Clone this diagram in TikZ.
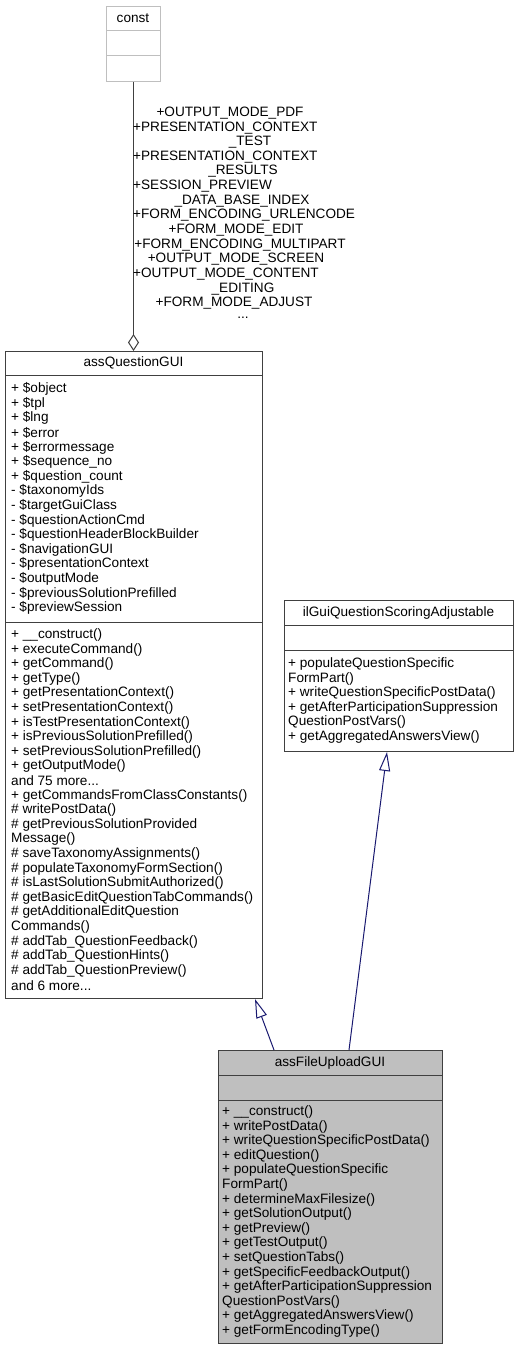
\documentclass[tikz,border=0pt]{standalone}
\usepackage{fontspec}
\setmainfont{Liberation Sans}
\usetikzlibrary{arrows.meta}
\definecolor{edgeblue}{RGB}{25,25,112}
\definecolor{boxline}{RGB}{64,64,64}
\definecolor{constgray}{RGB}{191,191,191}
\definecolor{curfill}{RGB}{191,191,191}

\begin{document}
\begin{tikzpicture}[x=1bp,y=1bp,font=\fontsize{13.6bp}{14.6bp}\selectfont,
box/.style={draw=boxline,line width=1bp,inner sep=0pt,anchor=north west},
member/.style={anchor=west,inner sep=0pt},
inherit/.style={edgeblue,line width=1bp,-{Triangle[open,length=19bp,width=11bp]}},
aggr/.style={boxline,line width=1bp,-{Diamond[open,length=17bp,width=11bp]}}]
\path[fill=white] (0,0) rectangle (515,-1352);
% class boxes, top left corner and size in px
\node[box,draw=constgray,minimum width=54bp,minimum height=75bp] (const) at (106,-6) {};
\node[box,minimum width=257bp,minimum height=647bp] (qgui) at (5,-351) {};
\node[box,minimum width=229bp,minimum height=151bp] (ilgui) at (284,-600) {};
\node[box,fill=curfill,minimum width=224bp,minimum height=293bp] (upload) at (218,-1050) {};
\draw[constgray,line width=1bp] (106,-31) -- (160,-31) (106,-56) -- (160,-56);
\draw[boxline,line width=1bp] (5,-375) -- (262,-375) (5,-622) -- (262,-622);
\draw[boxline,line width=1bp] (284,-625) -- (513,-625) (284,-650) -- (513,-650);
\draw[boxline,line width=1bp] (218,-1075) -- (442,-1075) (218,-1100) -- (442,-1100);
\node[inner sep=0pt] (const-title) at (133,-18.5) {const};
\node[inner sep=0pt] (qgui-title) at (133.5,-363) {assQuestionGUI};
\node[inner sep=0pt] (ilgui-title) at (398.5,-612.5) {ilGuiQuestionScoringAdjustable};
\node[inner sep=0pt] (upload-title) at (330,-1062.5) {assFileUploadGUI};
% members
\foreach \t [count=\i] in {+ \$object,+ \$tpl,+ \$lng,+ \$error,+ \$errormessage,
+ \$sequence\_no,+ \$question\_count,- \$taxonomyIds,- \$targetGuiClass,
- \$questionActionCmd,- \$questionHeaderBlockBuilder,- \$navigationGUI,
- \$presentationContext,- \$outputMode,- \$previousSolutionPrefilled,- \$previewSession}
\node[member] (qgui-attr-\i) at (11,{-389-14.6*(\i-1)}) {\t};
\foreach \t [count=\i] in {+ \_\_construct(),+ executeCommand(),+ getCommand(),+ getType(),
+ getPresentationContext(),+ setPresentationContext(),+ isTestPresentationContext(),
+ isPreviousSolutionPrefilled(),+ setPreviousSolutionPrefilled(),+ getOutputMode(),
{and 75 more.{}..},+ getCommandsFromClassConstants(),\# writePostData(),
\# getPreviousSolutionProvided,Message(),\# saveTaxonomyAssignments(),
\# populateTaxonomyFormSection(),\# isLastSolutionSubmitAuthorized(),
\# getBasicEditQuestionTabCommands(),\# getAdditionalEditQuestion,Commands(),
\# addTab\_QuestionFeedback(),\# addTab\_QuestionHints(),\# addTab\_QuestionPreview(),
{and 6 more.{}..}}
\node[member] (qgui-op-\i) at (11,{-635-14.6*(\i-1)}) {\t};
\foreach \t [count=\i] in {+ populateQuestionSpecific,FormPart(),
+ writeQuestionSpecificPostData(),+ getAfterParticipationSuppression,
QuestionPostVars(),+ getAggregatedAnswersView()}
\node[member] (ilgui-op-\i) at (288,{-664-14.6*(\i-1)}) {\t};
\foreach \t [count=\i] in {+ \_\_construct(),+ writePostData(),
+ writeQuestionSpecificPostData(),+ editQuestion(),+ populateQuestionSpecific,
FormPart(),+ determineMaxFilesize(),+ getSolutionOutput(),+ getPreview(),
+ getTestOutput(),+ setQuestionTabs(),+ getSpecificFeedbackOutput(),
+ getAfterParticipationSuppression,QuestionPostVars(),
+ getAggregatedAnswersView(),+ getFormEncodingType()}
\node[member] (upload-op-\i) at (222,{-1112-14.6*(\i-1)}) {\t};
% relations
\draw[aggr] (const.south) -- (const.south |- qgui.north);
\foreach \x/\a/\t [count=\i] in {230/center/+OUTPUT\_MODE\_PDF,
133/west/+PRESENTATION\_CONTEXT,250/center/\_TEST,
133/west/+PRESENTATION\_CONTEXT,243/center/\_RESULTS,
133/west/+SESSION\_PREVIEW,242/center/\_DATA\_BASE\_INDEX,
133/west/+FORM\_ENCODING\_URLENCODE,236/center/+FORM\_MODE\_EDIT,
240/center/+FORM\_ENCODING\_MULTIPART,236/center/+OUTPUT\_MODE\_SCREEN,
133/west/+OUTPUT\_MODE\_CONTENT,243/center/\_EDITING,
234/center/+FORM\_MODE\_ADJUST,243/center/.{}..}
\node[anchor=\a,inner sep=0pt] (aggr-label-\i) at (\x,{-113-14.64*(\i-1)}) {\t};
\draw[inherit] ([xshift=56bp]upload.north west) -- ([xshift=250bp]qgui.south west);
\draw[inherit] ([xshift=131bp]upload.north west) -- ([xshift=103bp]ilgui.south west);
\end{tikzpicture}
\end{document}
